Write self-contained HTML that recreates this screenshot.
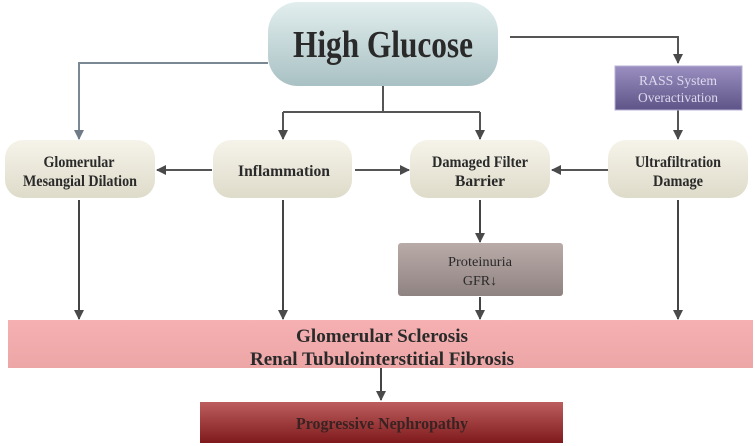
<!DOCTYPE html>
<html><head><meta charset="utf-8"><style>
html,body{margin:0;padding:0;background:#fff;}
svg{display:block;}
text{font-family:"Liberation Serif",serif;fill:#2a2a2a;}
</style></head><body>
<svg width="755" height="446" viewBox="0 0 755 446" xmlns="http://www.w3.org/2000/svg">
<defs>
<linearGradient id="hg" x1="0" y1="0" x2="0" y2="1"><stop offset="0" stop-color="#e2eeee"/><stop offset="1" stop-color="#a9c1c4"/></linearGradient>
<linearGradient id="bg" x1="0" y1="0" x2="0" y2="1"><stop offset="0" stop-color="#f6f4ea"/><stop offset="1" stop-color="#dedbca"/></linearGradient>
<linearGradient id="rs" x1="0" y1="0" x2="0" y2="1"><stop offset="0" stop-color="#9a8fc0"/><stop offset="1" stop-color="#5f5487"/></linearGradient>
<linearGradient id="pr" x1="0" y1="0" x2="0" y2="1"><stop offset="0" stop-color="#b9aba8"/><stop offset="1" stop-color="#8f8381"/></linearGradient>
<linearGradient id="pk" x1="0" y1="0" x2="0" y2="1"><stop offset="0" stop-color="#f6b0b2"/><stop offset="1" stop-color="#eda6a6"/></linearGradient>
<linearGradient id="pn" x1="0" y1="0" x2="0" y2="1"><stop offset="0" stop-color="#bd5e5e"/><stop offset="1" stop-color="#7f1a1c"/></linearGradient>
<marker id="a" markerWidth="10" markerHeight="10" refX="9" refY="5" orient="auto" markerUnits="userSpaceOnUse"><path d="M0,0 L10,5 L0,10 z" fill="#4a4a4a"/></marker>
<marker id="b" markerWidth="10" markerHeight="10" refX="9" refY="5" orient="auto" markerUnits="userSpaceOnUse"><path d="M0,0 L10,5 L0,10 z" fill="#6f7c88"/></marker>
</defs>
<g fill="none" stroke-width="2">
<path d="M268,63 H79 V139" stroke="#7a8894" marker-end="url(#b)"/>
<path d="M510,37 H678 V63" stroke="#555" marker-end="url(#a)"/>
<path d="M678,110 V139" stroke="#555" marker-end="url(#a)"/>
<path d="M383,86 V112 M283,112 H480" stroke="#555"/>
<path d="M283,112 V139" stroke="#555" marker-end="url(#a)"/>
<path d="M480,112 V139" stroke="#555" marker-end="url(#a)"/>
<path d="M212,170 H157" stroke="#555" marker-end="url(#a)"/>
<path d="M355,170 H409" stroke="#555" marker-end="url(#a)"/>
<path d="M608,170 H552" stroke="#555" marker-end="url(#a)"/>
<path d="M79,200 V319" stroke="#444" marker-end="url(#a)"/>
<path d="M283,200 V319" stroke="#444" marker-end="url(#a)"/>
<path d="M480,200 V242" stroke="#444" marker-end="url(#a)"/>
<path d="M480,297 V319" stroke="#444" marker-end="url(#a)"/>
<path d="M678,200 V319" stroke="#444" marker-end="url(#a)"/>
<path d="M381,368 V400" stroke="#444" marker-end="url(#a)"/>
</g>
<rect x="268" y="2" width="230" height="84" rx="30" fill="url(#hg)"/>
<text x="383" y="57" font-size="38" font-weight="bold" text-anchor="middle" textLength="180" lengthAdjust="spacingAndGlyphs">High Glucose</text>
<rect x="615" y="66" width="127" height="44" fill="url(#rs)" stroke="#b7b0d6"/>
<text x="678" y="85" font-size="14" text-anchor="middle" textLength="78" lengthAdjust="spacingAndGlyphs" style="fill:#ddd9ee">RASS System</text>
<text x="678" y="102" font-size="14" text-anchor="middle" textLength="80" lengthAdjust="spacingAndGlyphs" style="fill:#ddd9ee">Overactivation</text>
<rect x="5" y="140" width="150" height="58" rx="18" fill="url(#bg)"/>
<rect x="213" y="140" width="139" height="58" rx="18" fill="url(#bg)"/>
<rect x="410" y="140" width="140" height="58" rx="18" fill="url(#bg)"/>
<rect x="608" y="140" width="140" height="58" rx="18" fill="url(#bg)"/>
<g font-size="16" font-weight="bold" text-anchor="middle">
<text x="79" y="167" textLength="71" lengthAdjust="spacingAndGlyphs">Glomerular</text><text x="80" y="186" textLength="114" lengthAdjust="spacingAndGlyphs">Mesangial Dilation</text>
<text x="284" y="176" textLength="92" lengthAdjust="spacingAndGlyphs">Inflammation</text>
<text x="480" y="167" textLength="96" lengthAdjust="spacingAndGlyphs">Damaged Filter</text><text x="480" y="186" textLength="50" lengthAdjust="spacingAndGlyphs">Barrier</text>
<text x="678" y="167" textLength="86" lengthAdjust="spacingAndGlyphs">Ultrafiltration</text><text x="678" y="186" textLength="50" lengthAdjust="spacingAndGlyphs">Damage</text>
</g>
<rect x="398" y="243" width="165" height="53" rx="3" fill="url(#pr)"/>
<text x="480" y="266" font-size="14" text-anchor="middle" textLength="64" lengthAdjust="spacingAndGlyphs">Proteinuria</text>
<text x="480" y="285" font-size="14" text-anchor="middle">GFR↓</text>
<rect x="8" y="320" width="745" height="48" fill="url(#pk)"/>
<text x="382" y="342" font-size="19" font-weight="bold" text-anchor="middle" textLength="172" lengthAdjust="spacingAndGlyphs">Glomerular Sclerosis</text>
<text x="382" y="365" font-size="19" font-weight="bold" text-anchor="middle" textLength="264" lengthAdjust="spacingAndGlyphs">Renal Tubulointerstitial Fibrosis</text>
<rect x="200" y="402" width="363" height="41" fill="url(#pn)"/>
<text x="382" y="429" font-size="17" font-weight="bold" text-anchor="middle" textLength="172" lengthAdjust="spacingAndGlyphs" style="fill:#3a2222">Progressive Nephropathy</text>
</svg>
</body></html>
